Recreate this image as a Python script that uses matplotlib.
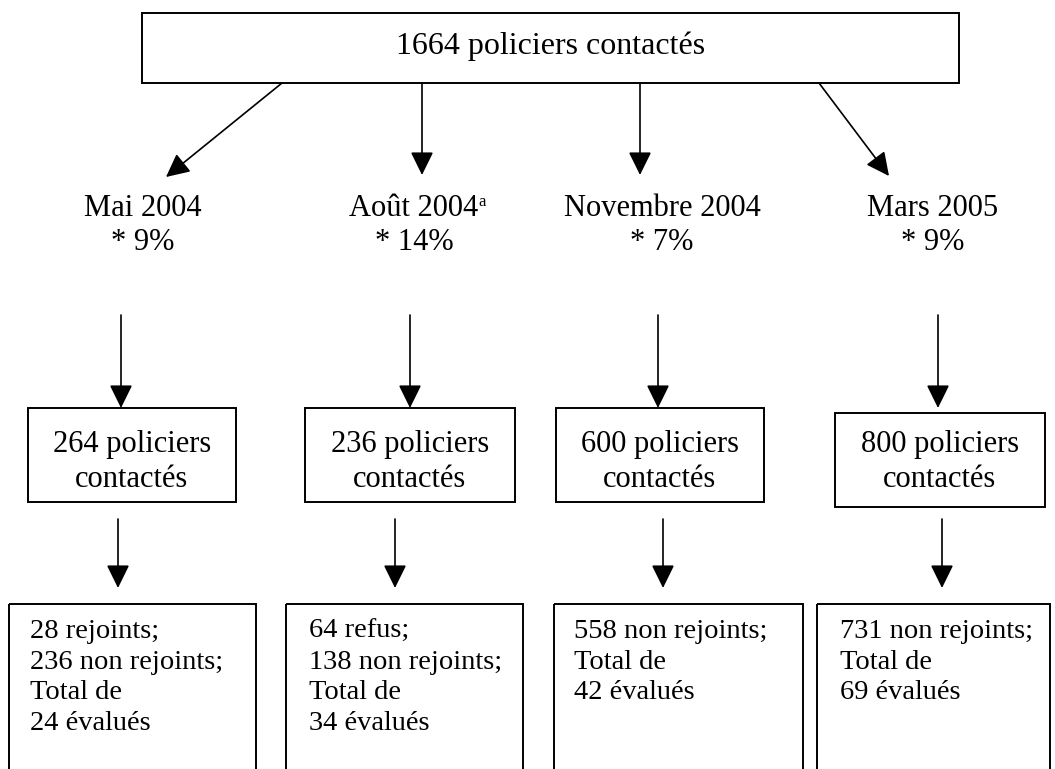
import matplotlib
matplotlib.use("Agg")
from matplotlib import pyplot as plt
from matplotlib.patches import Rectangle

plt.rcParams['font.family'] = ['Liberation Serif', 'DejaVu Serif']

# --- content ---
total_contacted = 1664
periods = ["Mai 2004", "Août 2004", "Novembre 2004", "Mars 2005"]
period_notes = ["", "a", "", ""]
rates = [9, 14, 7, 9]
contacted = [264, 236, 600, 800]
outcomes = [
    ["28 rejoints;", "236 non rejoints;", "Total de", "24 évalués"],
    ["64 refus;", "138 non rejoints;", "Total de", "34 évalués"],
    ["558 non rejoints;", "Total de", "42 évalués"],
    ["731 non rejoints;", "Total de", "69 évalués"],
]

# --- layout (pixel space, y down) ---
W, H = 1055, 769
top_box = (142, 959, 13, 83)
row1_start = [(282, 83), (422, 83), (640, 83), (819, 83)]
row1_end = [(166, 177), (422, 175), (640, 175), (889, 176)]
label_x = [143, 414, 662, 933]
label_y = [209, 242]
row2_x = [121, 410, 658, 938]
row2_y = (315, 408)
mid_boxes = [(28, 236, 408, 502), (305, 515, 408, 502),
             (556, 764, 408, 502), (835, 1045, 413, 507)]
mid_text_y = 462
row3_x = [118, 395, 663, 942]
row3_y = (519, 588)
bot_boxes = [(9, 256), (286, 523), (554, 803), (817, 1050)]
bot_top = 604
text_left = [30, 309, 574, 840]

fs_top = 23
fs = 22
fs_bot = 20.5
lw_box = 1.4
arrow_kw = dict(arrowstyle='-|>,head_length=0.65,head_width=0.32',
                color='black', lw=1.2, mutation_scale=22,
                shrinkA=0, shrinkB=0)

fig = plt.figure(figsize=(W / 100, H / 100), dpi=100)
ax = fig.add_axes([0, 0, 1, 1])
ax.set_xlim(0, W)
ax.set_ylim(H, 0)
ax.axis('off')


def box(x0, x1, y0, y1):
    ax.add_patch(Rectangle((x0, y0), x1 - x0, y1 - y0, fill=False,
                           edgecolor='black', lw=lw_box))


def arrow(p0, p1):
    ax.annotate('', xy=p1, xytext=p0, arrowprops=arrow_kw)


# top box
box(*top_box)
ax.text((top_box[0] + top_box[1]) / 2, (top_box[2] + top_box[3]) / 2 - 2,
        f"{total_contacted} policiers contactés", ha='center', va='center',
        fontsize=fs_top)

for i in range(4):
    arrow(row1_start[i], row1_end[i])

    t = ax.text(label_x[i], label_y[0], periods[i], ha='center',
                va='center', fontsize=fs)
    if period_notes[i]:
        ax.annotate(period_notes[i], xy=(1.0, 1.0), xycoords=t,
                    ha='left', va='top', fontsize=12)
    ax.text(label_x[i], label_y[1], f"* {rates[i]}%", ha='center',
            va='center', fontsize=fs)

    arrow((row2_x[i], row2_y[0]), (row2_x[i], row2_y[1]))

    mb = mid_boxes[i]
    box(*mb)
    ax.text((mb[0] + mb[1]) / 2, mid_text_y,
            f"{contacted[i]} policiers\ncontactés", ha='center',
            va='center', fontsize=fs, linespacing=1.25)

    arrow((row3_x[i], row3_y[0]), (row3_x[i], row3_y[1]))

    bx0, bx1 = bot_boxes[i]
    box(bx0, bx1, bot_top, H + 30)
    ax.text(text_left[i], bot_top + 15, "\n".join(outcomes[i]),
            ha='left', va='top', fontsize=fs_bot, linespacing=1.3)

fig.savefig("out.png", dpi=100)
